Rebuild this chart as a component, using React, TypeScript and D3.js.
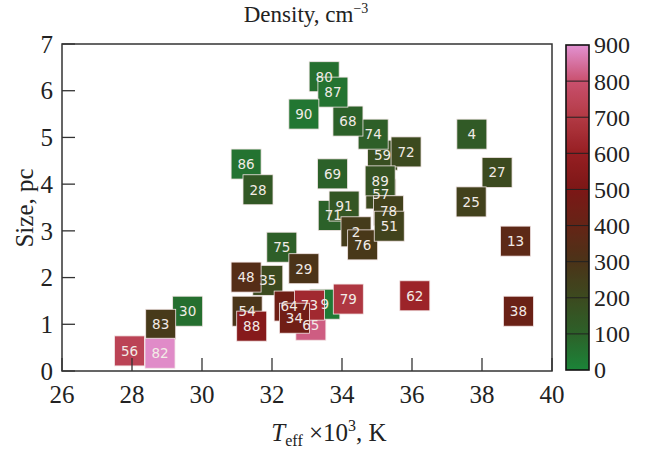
import React from 'react';
import * as d3 from 'd3';

// star ids, in drawing order (later ones sit on top)
const ids = [30, 83, 56, 82, 54, 88, 35, 48, 75, 29, 65, 9, 64, 73, 34, 79, 62, 38, 13,
  71, 91, 2, 76, 59, 72, 57, 89, 78, 51, 74, 68, 80, 87, 90, 86, 28, 69, 4, 27, 25];
const teff = [29.59, 28.82, 27.93, 28.8, 31.29, 31.42, 31.88, 31.26, 32.28, 32.91, 33.11, 33.51, 32.49, 33.07, 32.64, 34.18, 36.08, 39.04, 38.96,
  33.75, 34.06, 34.4, 34.59, 35.16, 35.83, 35.11, 35.09, 35.33, 35.35, 34.89, 34.17, 33.49, 33.74, 32.91, 31.26, 31.6, 33.73, 37.71, 38.43, 37.69];
const sizePc = [1.28, 1.0, 0.43, 0.38, 1.28, 0.96, 1.94, 2.01, 2.65, 2.19, 0.98, 1.43, 1.39, 1.41, 1.13, 1.54, 1.61, 1.28, 2.78,
  3.33, 3.53, 2.98, 2.7, 4.62, 4.69, 3.79, 4.07, 3.43, 3.1, 5.07, 5.35, 6.3, 5.97, 5.5, 4.43, 3.88, 4.22, 5.07, 4.25, 3.62];
const density = [60, 270, 740, 890, 290, 540, 200, 340, 110, 300, 820, 30, 440, 640, 450, 690, 620, 420, 370,
  100, 150, 260, 280, 180, 200, 200, 160, 240, 230, 110, 100, 60, 50, 40, 50, 140, 100, 130, 200, 240];

const xTicks = [26, 28, 30, 32, 34, 36, 38, 40];
const yTicks = [0, 1, 2, 3, 4, 5, 6, 7];
const cbTicks = [0, 100, 200, 300, 400, 500, 600, 700, 800, 900];
const cmapColors = ['#1b8438', '#2c6129', '#3c4a1f', '#4b3318', '#652416', '#7c1716', '#961e22', '#b23a44', '#c9506e', '#e292d2'];

const W = 646, H = 449;
const m = { left: 62, right: 552, top: 44, bottom: 371 };
const serif = '"Liberation Serif", "Times New Roman", serif';

export default function App() {
  const x = d3.scaleLinear().domain([26, 40]).range([m.left, m.right]);
  const y = d3.scaleLinear().domain([0, 7]).range([m.bottom, m.top]);
  const color = d3.scaleLinear<string>().domain(cbTicks).range(cmapColors).interpolate(d3.interpolateRgb);
  const cb = d3.scaleLinear().domain([0, 900]).range([370, 45]);
  const cbX = 566, cbW = 23;
  const sq = 30;
  const pts = ids.map((id, i) => ({ id, t: teff[i], s: sizePc[i], d: density[i] }));
  const grad = d3.range(0, 901, 10);

  return (
    <svg width={W} height={H} style={{ position: 'absolute', left: 0, top: 0, background: '#fff' }}>
      <defs>
        <linearGradient id="cbg" x1="0" y1="1" x2="0" y2="0">
          {grad.map(v => <stop key={v} offset={v / 900} stopColor={color(v)} />)}
        </linearGradient>
        <clipPath id="plot">
          <rect x={m.left} y={m.top} width={m.right - m.left} height={m.bottom - m.top} />
        </clipPath>
      </defs>

      <g clipPath="url(#plot)">
        {pts.map(p => (
          <rect key={'r' + p.id} x={x(p.t) - sq / 2} y={y(p.s) - sq / 2} width={sq} height={sq}
            fill={color(p.d)} stroke="#f3e6e6" strokeWidth={0.8} />
        ))}
        {pts.map(p => (
          <text key={'t' + p.id} x={x(p.t)} y={y(p.s)} dy="0.36em" textAnchor="middle"
            fontFamily='"DejaVu Sans", sans-serif' fontSize={13.5} fill="#f2ebe6">{p.id}</text>
        ))}
      </g>

      {/* frame */}
      <rect x={m.left} y={m.top} width={m.right - m.left} height={m.bottom - m.top}
        fill="none" stroke="#333" strokeWidth={1.5} />

      {xTicks.map(t => (
        <g key={'x' + t}>
          <line x1={x(t)} x2={x(t)} y1={m.bottom} y2={m.bottom - 13} stroke="#333" strokeWidth={1.3} />
          <text x={x(t)} y={403} textAnchor="middle" fontFamily={serif} fontSize={25} fill="#222">{t}</text>
        </g>
      ))}
      {yTicks.map(t => (
        <g key={'y' + t}>
          <line x1={m.left} x2={m.left + 13} y1={y(t)} y2={y(t)} stroke="#333" strokeWidth={1.3} />
          <text x={53} y={y(t)} dy="0.35em" textAnchor="end" fontFamily={serif} fontSize={25} fill="#222">{t}</text>
        </g>
      ))}

      <text x={306} y={22} textAnchor="middle" fontFamily={serif} fontSize={23} fill="#222">
        Density, cm<tspan dy={-9} fontSize={14}>−3</tspan>
      </text>
      <text transform="translate(33,208) rotate(-90)" textAnchor="middle" fontFamily={serif} fontSize={25} fill="#222">Size, pc</text>
      <text x={329} y={441} textAnchor="middle" fontFamily={serif} fontSize={25} fill="#222">
        <tspan fontStyle="italic">T</tspan><tspan dy={5} fontSize={16}>eff</tspan><tspan dy={-5}> ×10</tspan><tspan dy={-10} fontSize={16}>3</tspan><tspan dy={10}>, K</tspan>
      </text>

      {/* colorbar */}
      <rect x={cbX} y={cb(900)} width={cbW} height={cb(0) - cb(900)} fill="url(#cbg)" />
      {cbTicks.slice(1, -1).map(t => (
        <line key={'e' + t} x1={cbX} x2={cbX + cbW} y1={cb(t)} y2={cb(t)} stroke="#222" strokeWidth={1} />
      ))}
      <rect x={cbX} y={cb(900)} width={cbW} height={cb(0) - cb(900)} fill="none" stroke="#111" strokeWidth={1.6} />
      {cbTicks.map(t => (
        <text key={'c' + t} x={594} y={cb(t)} dy="0.35em" fontFamily={serif} fontSize={24} fill="#222">{t}</text>
      ))}
    </svg>
  );
}
